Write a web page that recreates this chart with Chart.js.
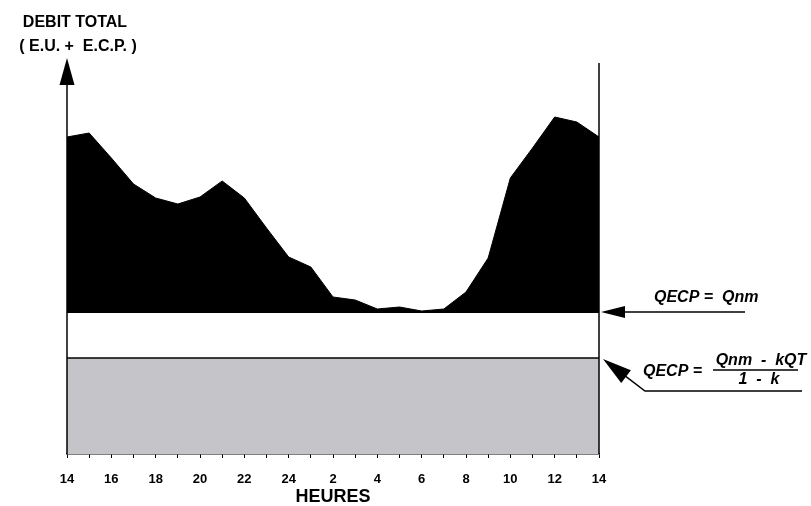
<!DOCTYPE html>
<html>
<head>
<meta charset="utf-8">
<script src="https://cdn.jsdelivr.net/npm/chart.js@4/dist/chart.umd.min.js"></script>
<style>
  html, body { margin: 0; padding: 0; background: #fff; }
  #wrap { width: 811px; height: 506px; position: relative; }
</style>
</head>
<body>
<div id="wrap"><canvas id="c" width="811" height="506"></canvas></div>
<script>
// Hours from 14h (day 1) to 14h (day 2), expressed as 14..38
const hours = [14,15,16,17,18,19,20,21,22,23,24,25,26,27,28,29,30,31,32,33,34,35,36,37,38];
// Total flow (E.U. + E.C.P.), arbitrary units
const debitTotal = [317,321,296,270,256,250,257,273,256,226,197,187,157,154,145,147,143,145,162,196,276,306,337,332,317];
// Constant levels
const qnm = 142;          // QECP = Qnm
const qecpReduced = 96;   // QECP = (Qnm - kQT)/(1 - k)
const yMax = 396;
// Tick labels every two hours
const tickLabels = ['14','16','18','20','22','24','2','4','6','8','10','12','14'];

const FONT = "'Liberation Sans', Arial, sans-serif";

const annotate = {
  id: 'annotate',
  afterDraw(chart) {
    const ctx = chart.ctx;
    const xs = chart.scales.x, ys = chart.scales.y;
    const xL = xs.getPixelForValue(hours[0]);
    const xR = xs.getPixelForValue(hours[hours.length - 1]);
    const yBase = ys.getPixelForValue(0);
    const yTop = ys.getPixelForValue(yMax);
    const yQnm = ys.getPixelForValue(qnm);
    const yRed = ys.getPixelForValue(qecpReduced);
    ctx.save();
    ctx.strokeStyle = '#000';
    ctx.fillStyle = '#000';
    // left vertical axis with arrow
    ctx.lineWidth = 1.5;
    ctx.beginPath();
    ctx.moveTo(xL, yBase);
    ctx.lineTo(xL, yTop + 20);
    ctx.stroke();
    ctx.beginPath();
    ctx.moveTo(xL, yTop);
    ctx.lineTo(xL - 7.5, yTop + 27);
    ctx.lineTo(xL + 7.5, yTop + 27);
    ctx.closePath();
    ctx.fill();
    // right vertical line
    ctx.beginPath();
    ctx.moveTo(xR, yBase);
    ctx.lineTo(xR, yTop + 5);
    ctx.stroke();

    // arrow to Qnm line
    ctx.lineWidth = 1.5;
    ctx.beginPath();
    ctx.moveTo(xR + 20, yQnm);
    ctx.lineTo(xR + 146, yQnm);
    ctx.stroke();
    ctx.beginPath();
    ctx.moveTo(xR + 2, yQnm);
    ctx.lineTo(xR + 26, yQnm - 6);
    ctx.lineTo(xR + 26, yQnm + 6);
    ctx.closePath();
    ctx.fill();

    // diagonal arrow to reduced level
    const tipX = xR + 4, tipY = yRed + 1;
    const endX = xR + 46, endY = yRed + 33;
    const dx = endX - tipX, dy = endY - tipY;
    const len = Math.hypot(dx, dy);
    const ux = dx / len, uy = dy / len;
    const hl = 29, hw = 8;
    ctx.beginPath();
    ctx.moveTo(tipX + ux * 15, tipY + uy * 15);
    ctx.lineTo(endX, endY);
    ctx.lineTo(xR + 203, endY);
    ctx.stroke();
    ctx.beginPath();
    ctx.moveTo(tipX, tipY);
    ctx.lineTo(tipX + ux * hl - uy * hw, tipY + uy * hl + ux * hw);
    ctx.lineTo(tipX + ux * hl + uy * hw, tipY + uy * hl - ux * hw);
    ctx.closePath();
    ctx.fill();

    // texts
    ctx.textBaseline = 'middle';
    ctx.textAlign = 'left';
    ctx.font = "italic bold 16px " + FONT;
    ctx.fillText('QECP =  Qnm', xR + 55, yQnm - 14);
    ctx.fillText('QECP =', xR + 44, yRed + 14);
    ctx.textAlign = 'center';
    ctx.fillText('Qnm  -  kQT', xR + 162, yRed + 3);
    ctx.fillText('1  -  k', xR + 160, yRed + 22);
    ctx.lineWidth = 1.5;
    ctx.beginPath();
    ctx.moveTo(xR + 114, yRed + 12);
    ctx.lineTo(xR + 199, yRed + 12);
    ctx.stroke();

    // y-axis title
    ctx.font = "bold 16px " + FONT;
    ctx.fillText('DEBIT TOTAL', xL + 8, 23);
    ctx.fillText('( E.U. +  E.C.P. )', xL + 11, 47);
    ctx.restore();
  }
};

new Chart(document.getElementById('c'), {
  type: 'line',
  data: {
    datasets: [
      {
        label: 'Débit total',
        data: hours.map((h, i) => ({ x: h, y: debitTotal[i] })),
        borderColor: '#000',
        backgroundColor: '#000',
        borderWidth: 1,
        pointRadius: 0,
        tension: 0,
        fill: { value: qnm }
      },
      {
        label: 'QECP = Qnm',
        data: [{ x: hours[0], y: qnm }, { x: hours[hours.length - 1], y: qnm }],
        borderColor: '#000',
        borderWidth: 2,
        pointRadius: 0,
        fill: false
      },
      {
        label: 'QECP réduit',
        data: [{ x: hours[0], y: qecpReduced }, { x: hours[hours.length - 1], y: qecpReduced }],
        borderColor: '#000',
        borderWidth: 1.5,
        backgroundColor: '#c5c5c9',
        pointRadius: 0,
        fill: 'origin'
      }
    ]
  },
  options: {
    responsive: false,
    animation: false,
    layout: { padding: { left: 67, right: 212, top: 58, bottom: 0 } },
    plugins: { legend: { display: false }, tooltip: { enabled: false } },
    scales: {
      x: {
        type: 'linear',
        min: hours[0],
        max: hours[hours.length - 1],
        afterFit(scale) { scale.height = 52; },
        border: { display: true, color: '#000', width: 1.5 },
        grid: { display: true, drawOnChartArea: false, drawTicks: true, tickLength: 4, color: '#000', tickWidth: 1 },
        ticks: {
          stepSize: 1,
          autoSkip: false,
          maxRotation: 0,
          padding: 14,
          color: '#000',
          font: { family: FONT, size: 13, weight: 'bold' },
          callback: (v) => ((v - hours[0]) % 2 === 0 ? tickLabels[(v - hours[0]) / 2] : '')
        },
        title: {
          display: true,
          text: 'HEURES',
          color: '#000',
          font: { family: FONT, size: 18, weight: 'bold', lineHeight: 1 },
          padding: { top: 0, bottom: 0 }
        }
      },
      y: {
        display: false,
        min: 0,
        max: yMax
      }
    }
  },
  plugins: [annotate]
});
</script>
</body>
</html>
